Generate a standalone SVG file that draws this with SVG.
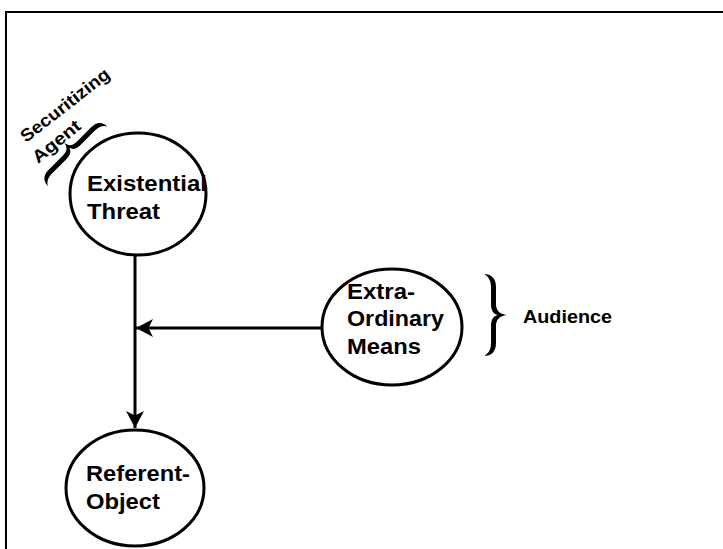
<svg xmlns="http://www.w3.org/2000/svg" width="723" height="549" viewBox="0 0 723 549">
  <style>
    .frame { fill: none; stroke: #000; stroke-width: 2; }
    .node { fill: #fff; stroke: #000; stroke-width: 3; }
    .label { font-family: "Liberation Sans", Arial, sans-serif; font-weight: bold; font-size: 22.5px; fill: #000; }
    .note { font-family: "Liberation Sans", Arial, sans-serif; font-weight: bold; font-size: 17.5px; fill: #000; }
    .edge { fill: none; stroke: #000; stroke-width: 3; }
    .brace { fill: #000; stroke: none; }
  </style>
  <defs>
    <marker id="arrow" viewBox="-18 -10 20 20" refX="0" refY="0" markerWidth="20" markerHeight="20" markerUnits="userSpaceOnUse" orient="auto">
      <path d="M0,0 L-17,-9 L-12.5,0 L-17,9 Z" fill="#000"/>
    </marker>
  </defs>

  <!-- page frame (top and left edges) -->
  <path class="frame" d="M6,549 L6,12 L723,12"/>

  <!-- connectors -->
  <g id="connectors">
    <line class="edge" x1="135" y1="255" x2="135" y2="428" marker-end="url(#arrow)"/>
    <line class="edge" x1="322" y1="328" x2="136" y2="328" marker-end="url(#arrow)"/>
  </g>

  <g id="existential-threat">
    <ellipse class="node" cx="138" cy="194" rx="68" ry="61"/>
    <text class="label" x="87" y="191" textLength="120" lengthAdjust="spacingAndGlyphs">Existential</text>
    <text class="label" x="87" y="219" textLength="73" lengthAdjust="spacingAndGlyphs">Threat</text>
  </g>

  <g id="extra-ordinary-means">
    <ellipse class="node" cx="392" cy="327" rx="70" ry="58"/>
    <text class="label" x="347" y="299" textLength="68" lengthAdjust="spacingAndGlyphs">Extra-</text>
    <text class="label" x="347" y="326" textLength="97" lengthAdjust="spacingAndGlyphs">Ordinary</text>
    <text class="label" x="347" y="354" textLength="74" lengthAdjust="spacingAndGlyphs">Means</text>
  </g>

  <g id="referent-object">
    <ellipse class="node" cx="135" cy="488" rx="69" ry="58"/>
    <text class="label" x="86" y="481" textLength="104" lengthAdjust="spacingAndGlyphs">Referent-</text>
    <text class="label" x="86" y="509" textLength="74" lengthAdjust="spacingAndGlyphs">Object</text>
  </g>

  <g id="audience">
    <path class="brace" transform="translate(484,274)" d="M0,0 C7,0 12,4 12,13 L12,30 C12,36 15,40 23,41 C15,42 12,46 12,52 L12,69 C12,78 7,82 0,82 C4,80 7,76 7,69 L7,52 C7,46 9,42 14,41 C9,40 7,36 7,30 L7,13 C7,6 4,2 0,0 Z"/>
    <text class="note" x="523" y="323" textLength="89" lengthAdjust="spacingAndGlyphs">Audience</text>
  </g>

  <g id="securitizing-agent">
    <path class="brace" transform="translate(48,186) rotate(-135)" d="M0,0 C7,0 11,4 11,12 L11,32 C11,38 13,41 19,42 C13,43 11,46 11,52 L11,72 C11,80 7,84 0,84 C4,82 6,78 6,72 L6,52 C6,46 8,43 12,42 C8,41 6,38 6,32 L6,12 C6,6 4,2 0,0 Z"/>
    <text class="note" transform="translate(26,143) rotate(-38)" textLength="108" lengthAdjust="spacingAndGlyphs">Securitizing</text>
    <text class="note" transform="translate(38,164) rotate(-39)" textLength="57" lengthAdjust="spacingAndGlyphs">Agent</text>
  </g>
</svg>
